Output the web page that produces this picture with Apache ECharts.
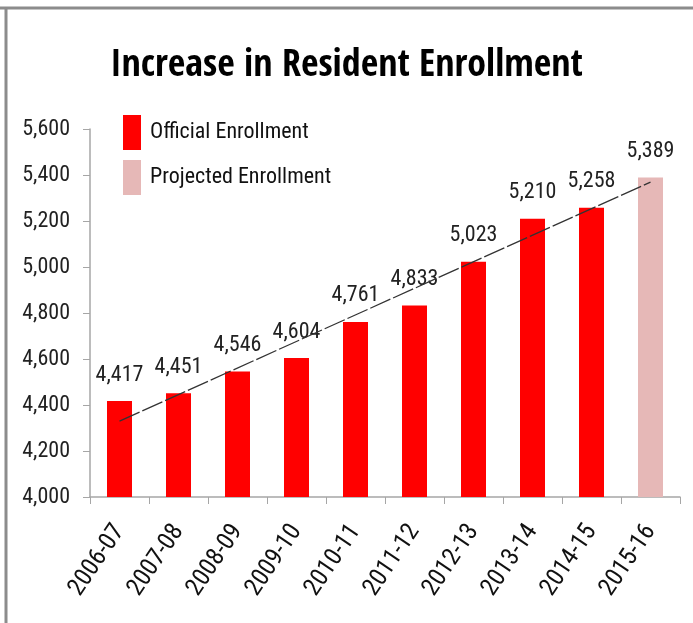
<!DOCTYPE html>
<html>
<head>
<meta charset="utf-8">
<style>html,body{margin:0;padding:0;background:#fff;}#c{width:693px;height:623px;}</style>
<script src="https://cdn.jsdelivr.net/npm/echarts@6/dist/echarts.min.js"></script>
</head>
<body>
<div id="c"></div>
<script>
var categories = ['2006-07','2007-08','2008-09','2009-10','2010-11','2011-12','2012-13','2013-14','2014-15','2015-16'];
var officialEnrollment = [4417,4451,4546,4604,4761,4833,5023,5210,5258,null];
var projectedEnrollment = [null,null,null,null,null,null,null,null,null,5389];
var trendEndpoints = [4330,null,null,null,null,null,null,null,null,5369];
var yTicks = [4000,4200,4400,4600,4800,5000,5200,5400,5600];

var TITLE_FONT = '"Open Sans Condensed", "Roboto Condensed", Lato, sans-serif';
var FONT = '"Roboto Condensed", "Open Sans Condensed Light", Lato, sans-serif';
function fmt(v){ return String(v).replace(/\B(?=(\d{3})+(?!\d))/g, ','); }

var chart = echarts.init(document.getElementById('c'));
chart.setOption({
  animation:false,
  backgroundColor:'#fff',
  title:{
    text:'Increase in Resident Enrollment',
    left:'center', top:42,
    textStyle:{fontFamily:TITLE_FONT, fontWeight:'bold', fontSize:38, color:'#000'}
  },
  legend:{
    data:['Official Enrollment','Projected Enrollment'],
    orient:'vertical', left:118, top:110,
    itemWidth:18, itemHeight:35, itemGap:10, icon:'rect',
    textStyle:{fontFamily:FONT, fontWeight:'normal', fontSize:22, color:'#111', padding:[0,0,0,4]}
  },
  grid:{left:90, right:13, top:129, bottom:126},
  xAxis:{
    type:'category', data:categories,
    axisLine:{lineStyle:{color:'#a6a6a6', width:1.5}},
    axisTick:{show:true, length:7, lineStyle:{color:'#a6a6a6'}},
    axisLabel:{rotate:56, fontFamily:FONT, fontWeight:'normal', fontSize:25, color:'#111', margin:30}
  },
  yAxis:{
    type:'value', min:yTicks[0], max:yTicks[yTicks.length-1], interval:200,
    axisLine:{show:true, lineStyle:{color:'#a6a6a6', width:1.5}},
    axisTick:{show:true, length:7, lineStyle:{color:'#a6a6a6'}},
    splitLine:{show:false},
    axisLabel:{fontFamily:FONT, fontWeight:'normal', fontSize:22, color:'#222', margin:20, formatter:fmt}
  },
  series:[
    {name:'Official Enrollment', type:'bar', data:officialEnrollment, barWidth:25, barGap:'-100%',
     itemStyle:{color:'#ff0000'},
     label:{show:true, position:'top', distance:15, fontFamily:FONT, fontWeight:'normal', fontSize:22, color:'#222',
            formatter:function(p){return fmt(p.value);}}},
    {name:'Projected Enrollment', type:'bar', data:projectedEnrollment, barWidth:25, barGap:'-100%',
     itemStyle:{color:'#e6b8b7'},
     label:{show:true, position:'top', distance:15, fontFamily:FONT, fontWeight:'normal', fontSize:22, color:'#222',
            formatter:function(p){return fmt(p.value);}}},
    {name:'Trend', type:'line', data:trendEndpoints, connectNulls:true, symbol:'none', z:5,
     lineStyle:{color:'#333', width:1.3, type:[22,3]}}
  ],
  graphic:[
    {type:'line', shape:{x1:0, y1:8, x2:693, y2:8}, style:{stroke:'#8c8c8c', lineWidth:3}},
    {type:'line', shape:{x1:6, y1:8, x2:6, y2:623}, style:{stroke:'#8c8c8c', lineWidth:3}}
  ]
});
</script>
</body>
</html>
